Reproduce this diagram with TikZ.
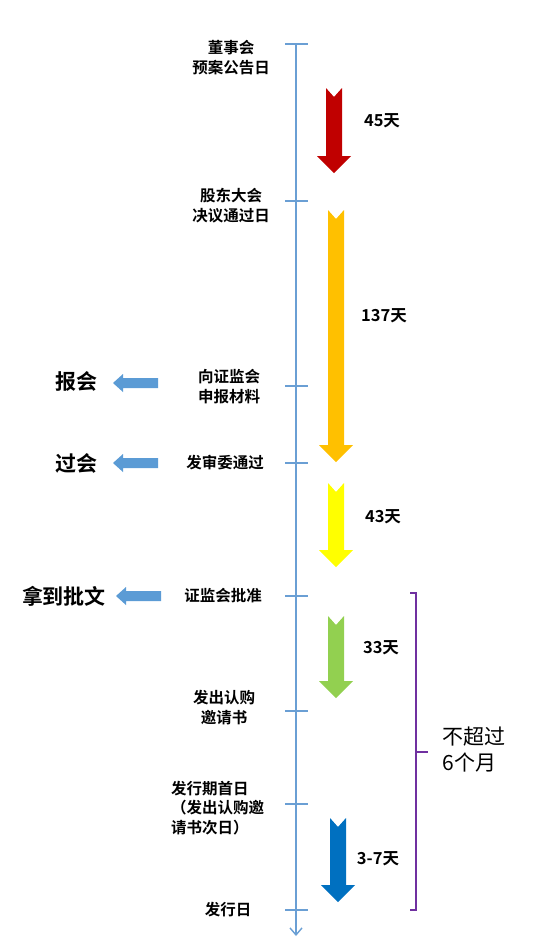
\documentclass[tikz,border=0pt]{standalone}
\usepackage{fontspec}
\setmainfont{Noto Sans CJK SC}[BoldFont={Noto Sans CJK SC Bold}]
\usetikzlibrary{arrows.meta}
\definecolor{tl}{HTML}{6A9FD4}
\definecolor{la}{HTML}{5B9BD5}
\definecolor{cred}{HTML}{C00000}
\definecolor{corange}{HTML}{FFC000}
\definecolor{cyellow}{HTML}{FFFF00}
\definecolor{cgreen}{HTML}{92D050}
\definecolor{cblue}{HTML}{0070C0}
\definecolor{cpurple}{HTML}{7030A0}
\newcommand\myblockarrow[4]{% center x, top y, tip y, color
  \fill[#4] (#1-8,#2) -- (#1,#2+9) -- (#1+8,#2) -- (#1+8,#3-17) -- (#1+17,#3-17)
    -- (#1,#3) -- (#1-17,#3-17) -- (#1-8,#3-17) -- cycle;}
\newcommand\myleftarrow[3]{% right x, left x, y
  \fill[la] (#1,#3-5) -- (#2+10,#3-5) -- (#2+10,#3-9) -- (#2,#3) -- (#2+10,#3+9)
    -- (#2+10,#3+5) -- (#1,#3+5) -- cycle;}
\tikzset{
  lbl/.style={font=\bfseries\fontsize{15.5}{20}\selectfont, align=center, inner sep=0pt},
  num/.style={font=\bfseries\fontsize{16.5}{18}\selectfont, inner sep=0pt},
  big/.style={font=\bfseries\fontsize{21}{26}\selectfont, inner sep=0pt, align=left},
  tick/.style={tl, line width=1.6pt},
}
\begin{document}
\begin{tikzpicture}[x=1pt,y=-1pt]
\useasboundingbox (0,0) rectangle (536,938);
% timeline
\coordinate (ttop) at (296,44);
\coordinate (tbot) at (296,936);
\draw[tl, line width=1.6pt, -{Straight Barb[length=7pt,width=12pt,line width=1.4pt]}] (ttop) -- (tbot);
\foreach \y/\n in {44/a,201/b,386/c,463/d,596/e,711/f,804/g,910/h}{
  \coordinate (t\n) at (296,\y);
  \draw[tick] (285,\y) -- (308,\y);
}
% left labels
\node[lbl] (la) at (231,58) {董事会\\预案公告日};
\node[lbl] (lb) at (231,206) {股东大会\\决议通过日};
\node[lbl] (lc) at (229,387) {向证监会\\申报材料};
\node[lbl] (ld) at (225,463) {发审委通过};
\node[lbl] (le) at (223,596) {证监会批准};
\node[lbl] (lf) at (224,708) {发出认购\\邀请书};
\node[lbl, align=left, anchor=west, font=\bfseries\fontsize{15.5}{19.5}\selectfont] (lg) at (171,808) {发行期首日\\（发出认购邀\\请书次日）};
\node[lbl] (lh) at (228,910) {发行日};
% block arrows
\myblockarrow{334}{88}{173}{cred}
\myblockarrow{336}{210}{462}{corange}
\myblockarrow{336}{483}{567}{cyellow}
\myblockarrow{336}{616}{698}{cgreen}
\myblockarrow{338}{818}{902}{cblue}
% durations
\node[num] (n1) at (382,121) {45天};
\node[num] (n2) at (384,316) {137天};
\node[num] (n3) at (383,517) {43天};
\node[num] (n4) at (381,648) {33天};
\node[num] (n5) at (378,859) {3-7天};
% left arrows and labels
\myleftarrow{158}{113}{383}
\myleftarrow{158}{113}{463}
\myleftarrow{161}{116}{596}
\node[big] (b1) at (76,381) {报会};
\node[big] (b2) at (76,463) {过会};
\node[big] (b3) at (64,596) {拿到批文};
% brace
\coordinate (br1) at (416,593);
\coordinate (br2) at (416,910);
\draw[cpurple, line width=1.5pt] (410,593) -- (br1) -- (br2) -- (410,910);
\draw[cpurple, line width=1.5pt] (416,752) -- (428,752);
\node[big, font=\fontsize{21}{26}\selectfont] (six) at (474,750) {不超过\\6个月};
\end{tikzpicture}
\end{document}
